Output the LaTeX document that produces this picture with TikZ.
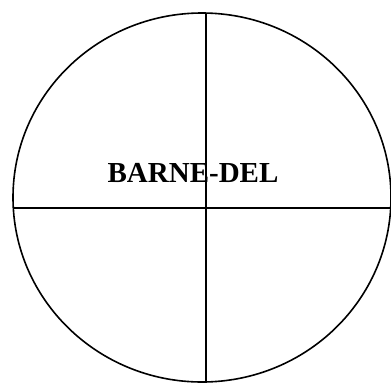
\documentclass[tikz,border=0pt]{standalone}
\usepackage{fontspec}
\setmainfont{Liberation Serif}
\usepackage{tikz}
\usetikzlibrary{calc}

\begin{document}
\begin{tikzpicture}[x=1pt, y=-1pt, line width=1.6pt]
		\useasboundingbox (0,0) rectangle (391,383);
		\coordinate (C) at (202,197.5);
		\coordinate (T) at (206,13);
		\coordinate (B) at (206,383);
		\coordinate (L) at (13,208);
		\coordinate (R) at (391,208);
		% outline
		\draw (C) ellipse [x radius=189, y radius=184.5];
		% cross
		\draw (T) -- (B);
		\draw (L) -- (R);
		\node[font=\fontsize{29}{30}\selectfont\bfseries, inner sep=0pt] (lbl) at (193,172.5) {BARNE-DEL};
	\end{tikzpicture}
\end{document}
